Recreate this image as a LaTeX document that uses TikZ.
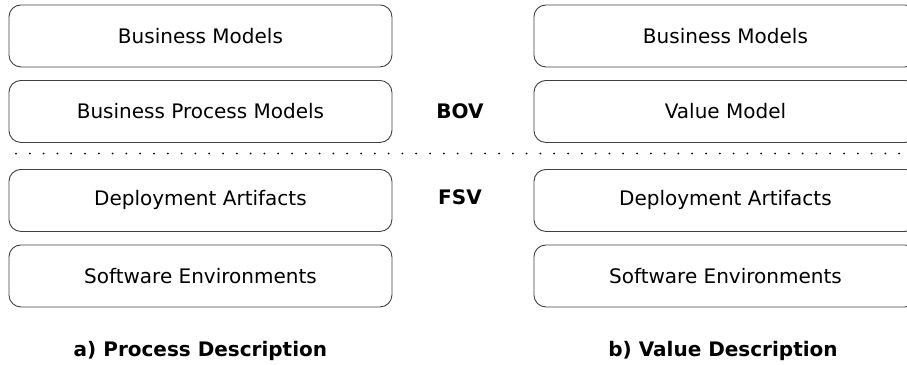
\documentclass[tikz,border=0pt]{standalone}
\usepackage{fontspec}
\setmainfont{DejaVu Sans}
\begin{document}
\begin{tikzpicture}[x=1pt,y=-1pt,
  layerbox/.style={draw=black!75,line width=0.9pt,rounded corners=12pt,
    minimum width=383pt,minimum height=62pt,inner sep=0pt,
    font=\fontsize{20}{24}\selectfont,anchor=north west},
  viewlabel/.style={font=\fontsize{20}{24}\selectfont\bfseries},
  caption/.style={font=\fontsize{20}{24}\selectfont\bfseries}]
  \useasboundingbox (0,0) rectangle (907,364);
  % left column: process description
  \node[layerbox] (lbm)  at (8.5,4.5)   {Business Models};
  \node[layerbox] (lbpm) at (8.5,80)    {Business Process Models};
  \node[layerbox] (lda)  at (8.5,169)   {Deployment Artifacts};
  \node[layerbox] (lse)  at (8.5,244.5) {Software Environments};
  % right column: value description
  \node[layerbox] (rbm)  at (533.5,4.5)   {Business Models};
  \node[layerbox] (rvm)  at (533.5,80)    {Value Model};
  \node[layerbox] (rda)  at (533.5,169)   {Deployment Artifacts};
  \node[layerbox] (rse)  at (533.5,244.5) {Software Environments};
  % view labels
  \node[viewlabel] (bov) at (460,111) {BOV};
  \node[viewlabel] (fsv) at (460,197) {FSV};
  % separator between the two views
  \coordinate (sepl) at (16,153.5);
  \coordinate (sepr) at (905,153.5);
  \draw[line width=2pt,line cap=round,dash pattern=on 0pt off 13.8pt] (sepl) -- (sepr);
  % captions
  \node[caption] (capa) at (lbm.center |- 0,351) {a) Process Description};
  \node[caption] (capb) at (723,351) {b) Value Description};
\end{tikzpicture}
\end{document}
